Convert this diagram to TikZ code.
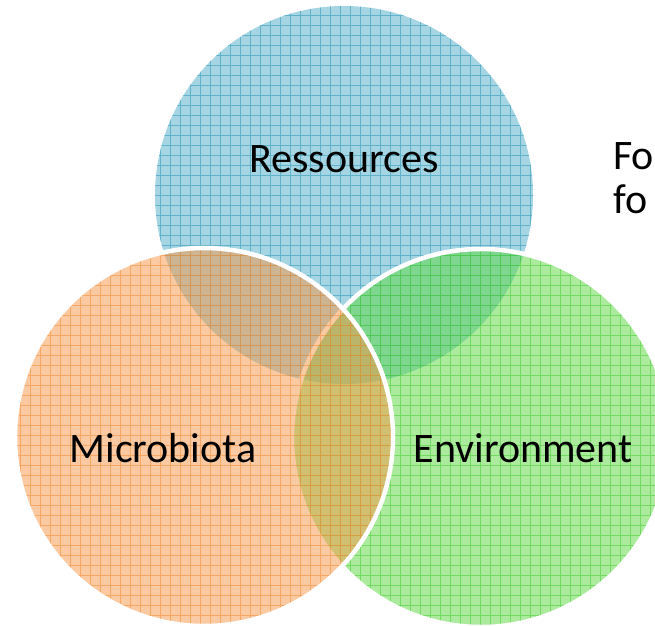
\documentclass[tikz,border=0pt]{standalone}
\usepackage{fontspec}
\setmainfont{Carlito}
\definecolor{resFill}{RGB}{75,172,198}
\definecolor{resGrid}{RGB}{40,150,185}
\definecolor{micFill}{RGB}{247,150,70}
\definecolor{micGrid}{RGB}{245,140,50}
\definecolor{envFill}{RGB}{90,215,60}
\definecolor{envGrid}{RGB}{70,205,50}
\tikzset{
  label/.style={font=\fontsize{42}{50}\selectfont, text=black, inner sep=0pt, anchor=base},
  side/.style={font=\fontsize{42}{50}\selectfont, text=black, inner sep=0pt, anchor=base west},
  rim/.style={draw=white, line width=4.5pt},
  gridline/.style={line width=0.9pt, opacity=0.55}
}
% one translucent, grid-ruled disc
\newcommand{\setdisc}[4]{%
  \begin{scope}
    \fill[#3, fill opacity=0.5] (#1) circle (#2);
    \clip (#1) circle (#2);
    \draw[#4, gridline] (0,0) grid[step=10pt] (680,625);
  \end{scope}}
\begin{document}
\begin{tikzpicture}[x=1pt,y=1pt]
\useasboundingbox (0,0) rectangle (655,625);
\coordinate (cR) at (344,430);
\coordinate (cM) at (204,188);
\coordinate (cE) at (481,187);
% Ressources
\setdisc{cR}{189}{resFill}{resGrid}
% Environment
\setdisc{cE}{189}{envFill}{envGrid}
\draw[rim] (cE) circle (189);
% Microbiota
\setdisc{cM}{189}{micFill}{micGrid}
\draw[rim] (cM) circle (189);
% labels
\node[label] (res) at (344,453) {Ressources};
\node[label] (mic) at (163,163) {Microbiota};
\node[label] (env) at (523,163) {Environment};
\node[side] (fo1) at (613,455) {Fo};
\node[side] (fo2) at (613,412) {fo};
\end{tikzpicture}
\end{document}
